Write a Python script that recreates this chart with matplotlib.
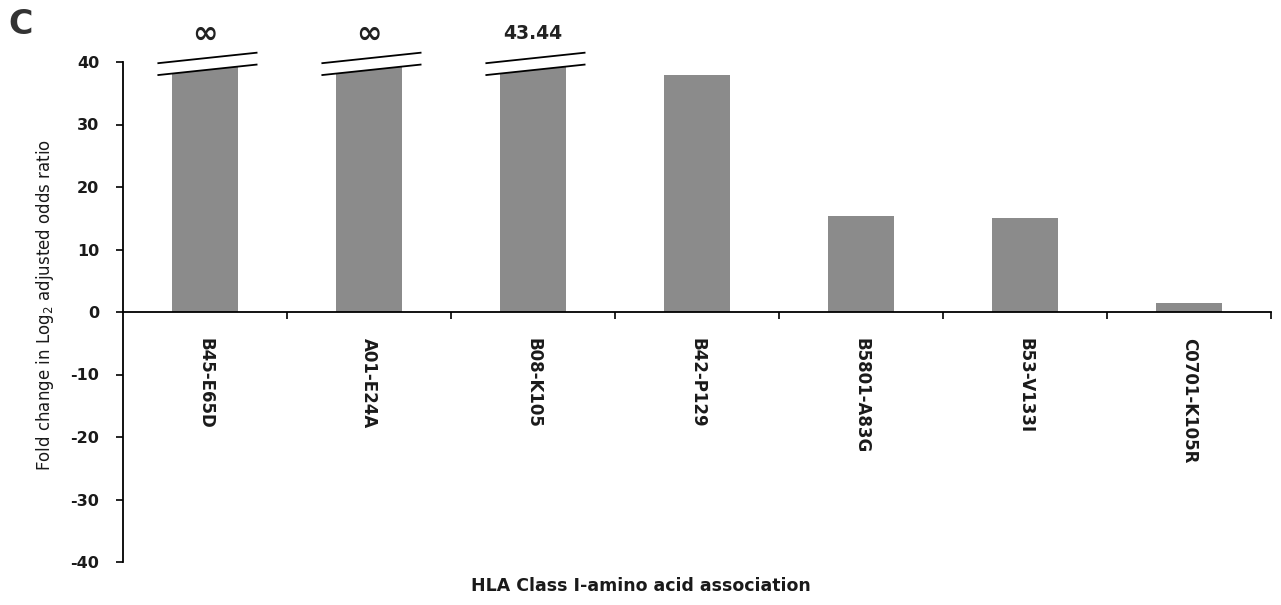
import numpy as np
import matplotlib
matplotlib.use("Agg")
import matplotlib.pyplot as plt
from matplotlib.patches import Polygon

# ---- data ----
categories = ["B45-E65D", "A01-E24A", "B08-K105", "B42-P129",
              "B5801-A83G", "B53-V133I", "C0701-K105R"]
values = [np.inf, np.inf, 43.44, 37.9, 15.3, 15.1, 1.4]
value_labels = ["\u221e", "\u221e", "43.44", "", "", "", ""]
yticks = [-40, -30, -20, -10, 0, 10, 20, 30, 40]
axis_cap = 40

bar_color = "#8b8b8b"
plt.rcParams['font.family'] = ['DejaVu Sans']

fig = plt.figure(figsize=(12.81, 6.05), dpi=100)
ax = fig.add_axes([123 / 1281, 1 - 562 / 605, (1271 - 123) / 1281, (562 - 62) / 605])

x = np.arange(len(categories))
heights = [min(v, axis_cap) for v in values]
bars = ax.bar(x, heights, width=0.4, color=bar_color, zorder=2)

# broken-axis marks for bars exceeding the axis
dx0, dx1 = -0.29, 0.32
lo0, lo1 = 37.9, 39.6
gap = 1.9
for i, (v, b) in enumerate(zip(values, bars)):
    if v > axis_cap:
        clip = Polygon([[i + dx0, -1], [i + dx1, -1], [i + dx1, lo1], [i + dx0, lo0]],
                       closed=True, transform=ax.transData, facecolor='none', edgecolor='none')
        ax.add_patch(clip)
        b.set_clip_path(clip)
        b.set_clip_on(True)
        for off in (0, gap):
            ax.plot([i + dx0, i + dx1], [lo0 + off, lo1 + off], color='black', lw=1.3,
                    clip_on=False, zorder=3, solid_capstyle='butt')
    if value_labels[i]:
        is_inf = np.isinf(v)
        ax.text(i, 44.6 if not is_inf else 44.4, value_labels[i], ha='center', va='center',
                fontsize=22 if is_inf else 13.5, fontweight='bold', color='#222222',
                clip_on=False)

ax.set_xlim(-0.5, len(categories) - 0.5)
ax.set_ylim(-40, 40)

for s in ('top', 'right'):
    ax.spines[s].set_visible(False)
ax.spines['bottom'].set_position(('data', 0))
ax.spines['left'].set_bounds(-40, 40)
for s in ('left', 'bottom'):
    ax.spines[s].set_linewidth(1.3)
    ax.spines[s].set_color('black')

ax.set_yticks(yticks)
ax.set_yticklabels([str(t) for t in yticks], fontsize=11.5, fontweight='bold', color='#1a1a1a')
ax.tick_params(axis='y', direction='out', length=5, width=1.2, pad=12)

ax.set_xticks(x)
ax.set_xticklabels(categories, rotation=-90, fontsize=12, fontweight='bold',
                   color='#1a1a1a', va='top', ha='center')
ax.tick_params(axis='x', which='major', length=0, pad=19)
ax.set_xticks(np.arange(0.5, len(categories), 1.0), minor=True)
ax.tick_params(axis='x', which='minor', direction='out', length=5, width=1.2)

fig.text(45 / 1281, 1 - 305 / 605, "Fold change in Log$_2$ adjusted odds ratio",
         rotation=90, ha='center', va='center', fontsize=12, color='#1a1a1a')
fig.text(641 / 1281, 1 - 586 / 605, "HLA Class I-amino acid association",
         ha='center', va='center', fontsize=12.5, fontweight='bold', color='#1a1a1a')
fig.text(21 / 1281, 1 - 25 / 605, "C", ha='center', va='center', fontsize=24,
         fontweight='bold', color='#333333')

fig.savefig("out.png", dpi=100, facecolor='white')
